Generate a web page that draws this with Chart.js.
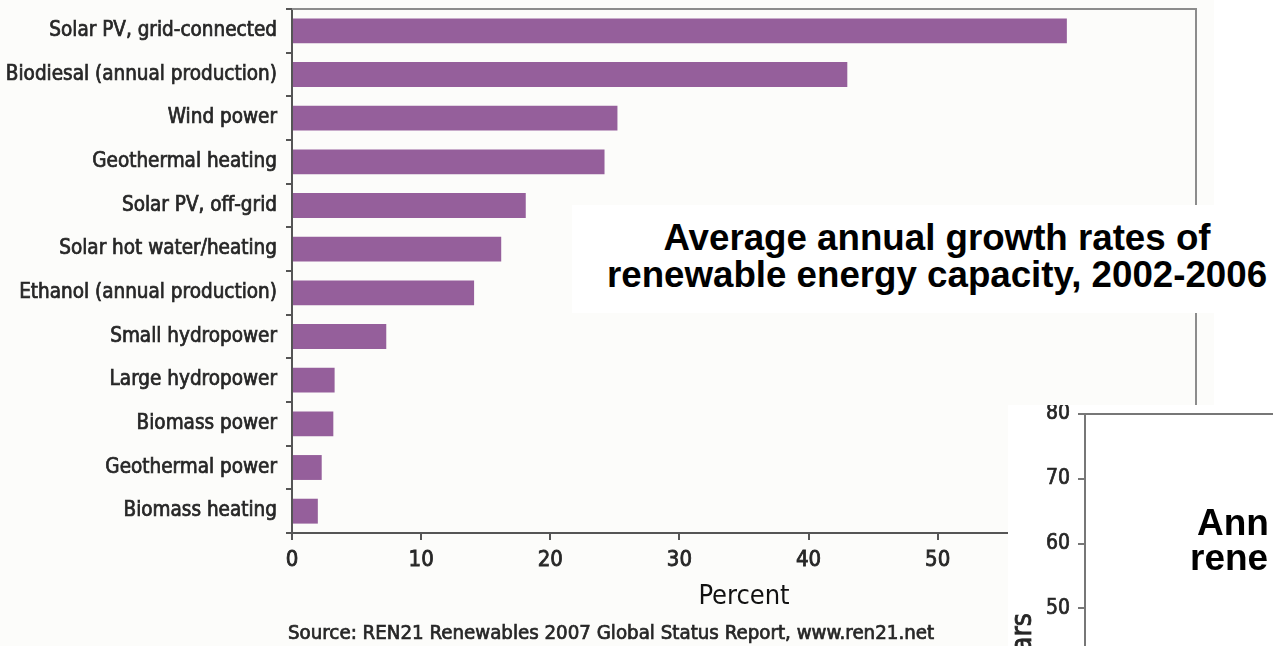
<!DOCTYPE html>
<html>
<head>
<meta charset="utf-8">
<script src="https://cdn.jsdelivr.net/npm/chart.js@4.4.1/dist/chart.umd.min.js"></script>
<style>
  html, body { margin: 0; padding: 0; background: #ffffff; overflow: hidden; }
  #wrap { position: relative; width: 1273px; height: 646px; }
  #main { position: absolute; left: 0; top: 0; }
  #titleBox { position: absolute; left: 572px; top: 205px; width: 701px; height: 108px; background: #ffffff; }
  #titleText { position: absolute; left: 0; top: 14px; width: 730px; text-align: center;
    font: bold 36.7px 'Liberation Sans', Arial, sans-serif; line-height: 37px; color: #000; white-space: nowrap; }
  #inset { position: absolute; left: 1008px; top: 405px; width: 265px; height: 241px; background: #ffffff; overflow: hidden; }
  #inset canvas { position: absolute; left: 0; top: 0; }
  .insetTitle { position: absolute; font: bold 37px 'Liberation Sans', Arial, sans-serif; line-height: 37px; color: #000; white-space: nowrap; }
</style>
</head>
<body>
<div id="wrap">
  <canvas id="main" width="1273" height="646"></canvas>
  <div id="titleBox"><div id="titleText"></div></div>
  <div id="inset">
    <canvas id="insetChart" width="700" height="560"></canvas>
    <div class="insetTitle" id="insetLine1" style="left:189px; top:99px;"></div>
    <div class="insetTitle" id="insetLine2" style="left:182px; top:134px;"></div>
  </div>
</div>
<script>
// ---- data ----
const categories = [
  'Solar PV, grid-connected',
  'Biodiesal (annual production)',
  'Wind power',
  'Geothermal heating',
  'Solar PV, off-grid',
  'Solar hot water/heating',
  'Ethanol (annual production)',
  'Small hydropower',
  'Large hydropower',
  'Biomass power',
  'Geothermal power',
  'Biomass heating'
];
const growthRates = [60, 43, 25.2, 24.2, 18.1, 16.2, 14.1, 7.3, 3.3, 3.2, 2.3, 2.0];
const xTicksMax = 70;
const xTickStep = 10;
const xAxisTitle = 'Percent';
const sourceNote = 'Source: REN21 Renewables 2007 Global Status Report, www.ren21.net';
const titleLines = ['Average annual growth rates of', 'renewable energy capacity, 2002-2006'];

const insetYears = [];
const insetValues = [];
const insetYMax = 80;
const insetYStep = 10;
const insetYTitle = 'Billion dollars';
const insetTitleLines = ['Ann', 'rene'];

// ---- text overlays ----
document.getElementById('titleText').innerHTML = titleLines.join('<br>');
document.getElementById('insetLine1').textContent = insetTitleLines[0];
document.getElementById('insetLine2').textContent = insetTitleLines[1];

const NARROW = "'Liberation Sans Narrow', 'DejaVu Sans Condensed', 'Arial Narrow', sans-serif";
const TEXT = '#262626';
const AXIS = '#555555';

function noEdgePadding(s) { s.paddingTop = 0; s.paddingBottom = 0; s.paddingLeft = 0; s.paddingRight = 0; }

const bgPlugin = {
  id: 'bg',
  beforeDraw(chart) {
    const c = chart.ctx;
    c.save();
    c.fillStyle = '#fcfcfa';
    c.fillRect(0, 0, 1214, chart.height);
    c.restore();
  }
};

const framePlugin = {
  id: 'frame',
  afterDraw(chart, args, opts) {
    const a = chart.chartArea, c = chart.ctx;
    c.save();
    c.strokeStyle = opts.color || '#8c8c8c';
    c.lineWidth = 2;
    c.beginPath();
    c.moveTo(a.left, a.top);
    c.lineTo(a.right, a.top);
    if (opts.right !== false) c.lineTo(a.right, a.bottom);
    c.stroke();
    c.restore();
  }
};

const sourcePlugin = {
  id: 'source',
  afterDraw(chart) {
    const c = chart.ctx;
    c.save();
    c.font = '20.3px ' + NARROW;
    c.fillStyle = TEXT;
    c.strokeStyle = TEXT;
    c.lineWidth = 0.7;
    c.textAlign = 'left';
    c.textBaseline = 'alphabetic';
    c.strokeText(sourceNote, 288, 639);
    c.fillText(sourceNote, 288, 639);
    c.restore();
  }
};

const insetYTitlePlugin = {
  id: 'insetYTitle',
  afterDraw(chart) {
    const c = chart.ctx;
    c.save();
    c.translate(16, 208);
    c.rotate(-Math.PI / 2);
    c.font = '28px ' + NARROW;
    c.fillStyle = TEXT;
    c.strokeStyle = TEXT;
    c.lineWidth = 0.8;
    c.textAlign = 'right';
    c.textBaseline = 'middle';
    c.strokeText(insetYTitle, 0, 0);
    c.fillText(insetYTitle, 0, 0);
    c.restore();
  }
};

new Chart(document.getElementById('main').getContext('2d'), {
  type: 'bar',
  data: {
    labels: categories,
    datasets: [{
      data: growthRates,
      backgroundColor: '#955f9b',
      borderWidth: 0,
      barPercentage: 0.57,
      categoryPercentage: 1
    }]
  },
  options: {
    indexAxis: 'y',
    responsive: false,
    animation: false,
    devicePixelRatio: 1,
    layout: { padding: { top: 9, left: 0, right: 77, bottom: 0 } },
    plugins: {
      legend: { display: false },
      tooltip: { enabled: false },
      frame: { color: '#8c8c8c' }
    },
    scales: {
      x: {
        min: 0,
        max: xTicksMax,
        ticks: { stepSize: xTickStep, font: { family: NARROW, size: 22 }, color: TEXT, padding: 7, maxRotation: 0,
                 textStrokeColor: TEXT, textStrokeWidth: 0.8 },
        grid: { drawOnChartArea: false, tickLength: 7, color: AXIS, lineWidth: 2 },
        border: { color: AXIS, width: 2 },
        title: { display: true, text: xAxisTitle, font: { family: NARROW, size: 27 }, color: '#111111', padding: { top: 0, bottom: 33 } },
        afterFit(s) { s.height = 113; noEdgePadding(s); }
      },
      y: {
        ticks: { font: { family: NARROW, size: 20.5 }, color: TEXT, padding: 9, autoSkip: false,
                 textStrokeColor: TEXT, textStrokeWidth: 0.7 },
        grid: { drawOnChartArea: false, tickLength: 6, color: AXIS, lineWidth: 2, offset: true },
        border: { color: AXIS, width: 2 },
        afterFit(s) { s.width = 292; noEdgePadding(s); }
      }
    }
  },
  plugins: [bgPlugin, framePlugin, sourcePlugin]
});

new Chart(document.getElementById('insetChart').getContext('2d'), {
  type: 'bar',
  data: {
    labels: insetYears,
    datasets: [{ data: insetValues, backgroundColor: '#4a7ab5' }]
  },
  options: {
    responsive: false,
    animation: false,
    devicePixelRatio: 1,
    layout: { padding: { top: 9, left: 0, right: 0, bottom: 33 } },
    plugins: {
      legend: { display: false },
      tooltip: { enabled: false },
      frame: { color: '#777777', right: false }
    },
    scales: {
      x: { display: false },
      y: {
        min: 0,
        max: insetYMax,
        ticks: { stepSize: insetYStep, font: { family: NARROW, size: 21 }, color: TEXT, padding: 8,
                 textStrokeColor: TEXT, textStrokeWidth: 0.7 },
        grid: { drawOnChartArea: false, tickLength: 7, color: '#777777', lineWidth: 2 },
        border: { color: '#777777', width: 2 },
        afterFit(s) { s.width = 77; noEdgePadding(s); }
      }
    }
  },
  plugins: [framePlugin, insetYTitlePlugin]
});
</script>
</body>
</html>
